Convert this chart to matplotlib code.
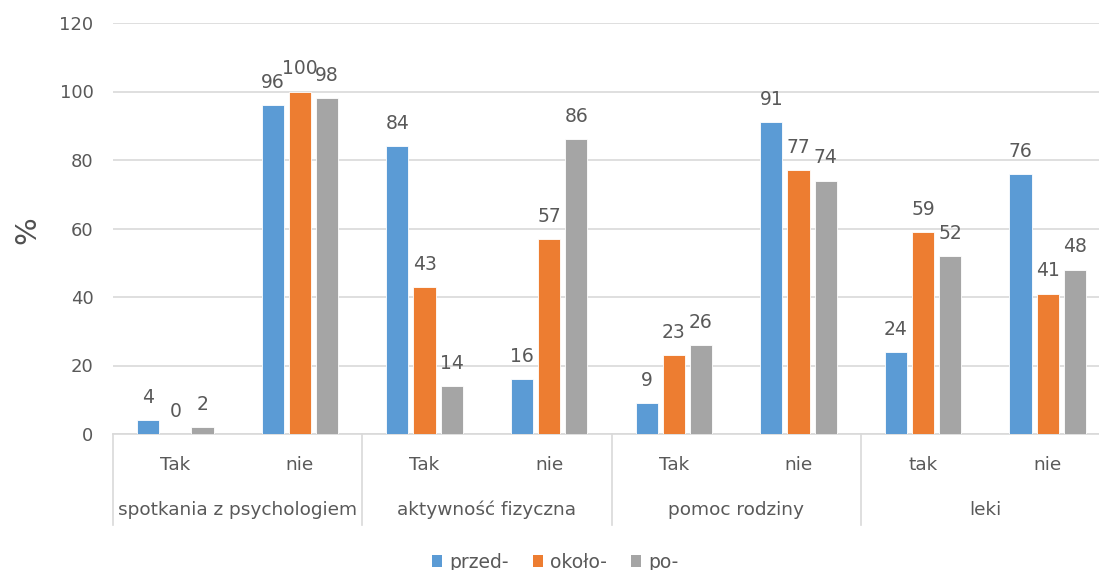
import matplotlib
matplotlib.use("Agg")
import matplotlib.pyplot as plt
from matplotlib.lines import Line2D
from matplotlib.patches import Patch
import numpy as np

# Survey answers (%) per activity, before / around / after
groups = ["spotkania z psychologiem", "aktywność fizyczna", "pomoc rodziny", "leki"]
answers = ["Tak", "nie", "Tak", "nie", "Tak", "nie", "tak", "nie"]
series_names = ["przed-", "około-", "po-"]
przed = [4, 96, 84, 16, 9, 91, 24, 76]
okolo = [0, 100, 43, 57, 23, 77, 59, 41]
po = [2, 98, 14, 86, 26, 74, 52, 48]
yticks = [0, 20, 40, 60, 80, 100, 120]

colors = ["#5B9BD5", "#ED7D31", "#A5A5A5"]
text_color = "#595959"
grid_color = "#D9D9D9"

plt.rcParams["font.family"] = ["DejaVu Sans"]

W, H = 1099, 570
fig = plt.figure(figsize=(W / 100, H / 100), dpi=100)
ax = fig.add_axes([113 / W, 136 / H, (1110 - 113) / W, (547 - 136) / H])

x = np.arange(len(answers))
step = 0.218
width = 0.178
for i, (vals, name, col) in enumerate(zip([przed, okolo, po], series_names, colors)):
    pos = x + (i - 1) * step
    bars = ax.bar(pos, vals, width=width, color=col, edgecolor="white",
                  linewidth=0.6, label=name, zorder=3)
    for b, v in zip(bars, vals):
        ax.annotate(str(v), (b.get_x() + b.get_width() / 2, v),
                    xytext=(0, 9.5), textcoords="offset points",
                    ha="center", va="bottom", fontsize=13.5, color=text_color)

ax.set_xlim(-0.5, len(answers) - 0.5)
ax.set_ylim(0, 120)
ax.set_yticks(yticks)
ax.set_yticklabels([str(t) for t in yticks])
ax.tick_params(axis="y", length=0, pad=14, labelsize=13, labelcolor=text_color)
ax.set_xticks([])
ax.yaxis.grid(True, color=grid_color, linewidth=1.2, zorder=0)
ax.set_axisbelow(True)
for s in ["left", "right", "top"]:
    ax.spines[s].set_visible(False)
ax.spines["bottom"].set_color(grid_color)
ax.spines["bottom"].set_linewidth(1.2)

# Two-level category axis
trans = ax.get_xaxis_transform()
sep_depth = -91 / 411
for k in range(len(groups) + 1):
    xs = 2 * k - 0.5
    ax.add_line(Line2D([xs, xs], [0, sep_depth], transform=trans,
                       color=grid_color, linewidth=1.2, clip_on=False))
for xi, lab in zip(x, answers):
    ax.text(xi, -31 / 411, lab, transform=trans, ha="center", va="center",
            fontsize=13.3, color=text_color)
for g, lab in enumerate(groups):
    ax.text(2 * g + 0.5, -76 / 411, lab, transform=trans, ha="center", va="center",
            fontsize=13.3, color=text_color)

fig.text(27 / W, 1 - 230 / H, "%", rotation=90, ha="center", va="center",
         fontsize=21, color="#505050")

handles = [Patch(facecolor=c, edgecolor="none") for c in colors]
fig.legend(handles, series_names, loc="center", bbox_to_anchor=(555 / W, 1 - 562 / H),
           ncol=3, frameon=False, fontsize=13.5, labelcolor=text_color,
           handlelength=0.55, handleheight=0.55, handletextpad=0.35, columnspacing=1.3)

fig.savefig("out.png", dpi=100)
